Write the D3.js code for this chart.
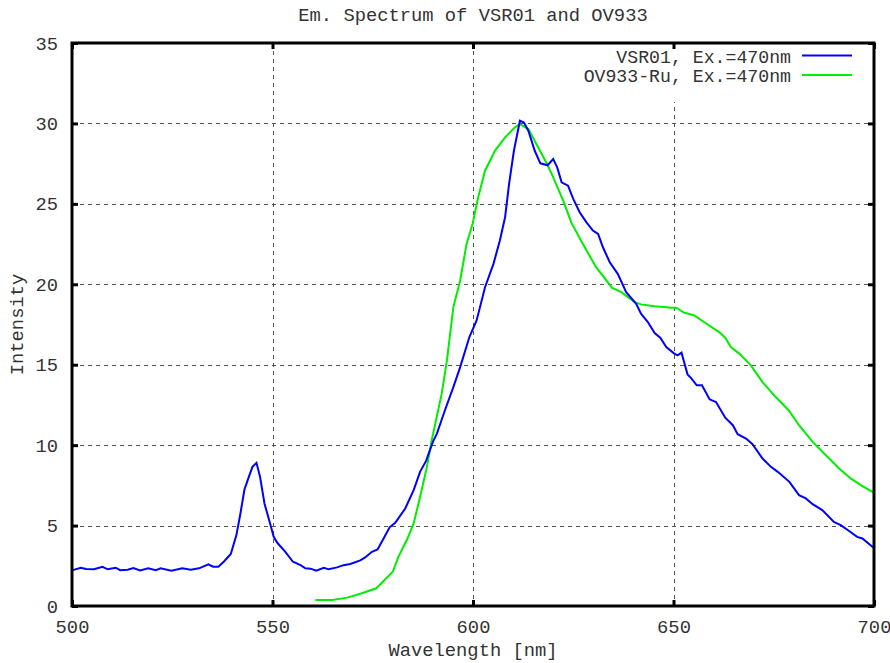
<!DOCTYPE html>
<html><head><meta charset="utf-8">
<script src="https://cdn.jsdelivr.net/npm/d3@7"></script>
<style>body{margin:0;background:#fff}svg text{font-family:"Liberation Mono","Courier New",monospace}</style>
</head><body><svg id="c" width="890" height="663"></svg>
<script>
const title = "Em. Spectrum of VSR01 and OV933";
const xLabel = "Wavelength [nm]";
const yLabel = "Intensity";
const xTicks = [500, 550, 600, 650, 700];
const yTicks = [0, 5, 10, 15, 20, 25, 30, 35];
const seriesNames = ["VSR01, Ex.=470nm", "OV933-Ru, Ex.=470nm"];
const seriesColors = ["#0000ff", "#00ee00"];

const vsrX = [500,500.2,502.2,503.5,505.5,507.6,508.9,510.9,512,513.9,515.3,517,519,520.9,522.1,524.8,527.5,529.6,531.7,534,535.2,536.5,537.9,539.6,541,542,543,544.1,545,546,546.9,548,549.5,550.3,551.2,553.2,555.1,557,558.2,559.5,560.9,562.8,564,566.1,567.7,569.4,571.9,573.1,574.8,576.2,577.7,579.2,580.6,583.1,585.2,586.8,588.3,590,591,593,595.1,596.8,599.1,600.9,603,605.1,606.7,608,609,610.2,611.7,612.7,613.8,615.4,616.8,618.6,620,621,622.1,623.7,625,626.6,628.3,629.9,631.2,632.4,634.1,636.1,638.2,640.7,641.9,643.6,645.3,646.7,648.2,650.2,651,652,653.5,654.4,655.8,657.1,659,660.6,662.9,664.8,666,668.1,669.7,672.2,674.3,676,678.9,681.3,683,684.7,687.1,690,691.7,693.8,695.8,697.1,699.6,700];
const vsrY = [2.22,2.23,2.38,2.30,2.28,2.44,2.28,2.38,2.23,2.26,2.36,2.21,2.34,2.23,2.34,2.19,2.34,2.26,2.34,2.59,2.44,2.44,2.77,3.23,4.41,5.75,7.24,8.03,8.65,8.9,8.03,6.37,5.03,4.30,3.93,3.37,2.75,2.54,2.34,2.32,2.19,2.38,2.28,2.40,2.54,2.61,2.84,3.02,3.37,3.52,4.20,4.89,5.17,6.06,7.20,8.34,9.02,10.2,10.72,12.17,13.61,14.85,16.72,17.75,19.82,21.27,22.72,24.17,26.24,28.3,30.17,30.06,29.55,28.3,27.52,27.4,27.79,27.27,26.34,26.13,25.31,24.48,23.85,23.34,23.13,22.3,21.37,20.65,19.51,18.79,18.17,17.65,16.97,16.68,16.1,15.69,15.58,15.75,14.4,14.17,13.72,13.72,12.85,12.68,11.71,11.24,10.68,10.41,10.06,9.17,8.65,8.34,7.72,6.89,6.69,6.33,5.96,5.23,5.03,4.66,4.30,4.20,3.68,3.62];

const ovX = [560.7,564.9,568.6,572.3,575.9,580,581.4,583.5,585.2,586.8,588.5,589.7,592.2,593.5,595.1,596.8,598.4,599.9,601.3,603,605.5,608,610.4,611.7,613.8,615.8,618.7,620,622.5,624.5,627.4,630.7,634.7,637,640.3,641.9,645.3,649.6,650.7,652.5,655.2,658.9,661.4,662.9,664.3,666.4,669.3,672.2,675.5,678.7,681.3,684.7,688,691.3,694.2,696.7,699.6,700];
const ovY = [0.37,0.37,0.52,0.79,1.10,2.13,3.06,4.10,5.13,6.78,8.65,10.3,13.2,15.27,18.58,20.24,22.51,23.76,25.41,27.06,28.31,29.13,29.75,29.96,29.65,28.72,27.37,26.65,25.2,23.85,22.51,21.06,19.78,19.51,18.89,18.75,18.64,18.54,18.54,18.25,18.06,17.44,17.03,16.68,16.1,15.69,14.96,13.92,12.99,12.17,11.24,10.2,9.37,8.55,7.93,7.51,7.10,7.05];

const FS = 18.8;
const svg = d3.select("#c");
const L = 72, R = 874, T = 43, B = 606;
const x = d3.scaleLinear().domain([500, 700]).range([L, R]);
const y = d3.scaleLinear().domain([0, 35]).range([B, T]);

// grid
const grid = svg.append("g").attr("stroke", "#555").attr("stroke-width", 1).attr("stroke-dasharray", "4,4");
xTicks.slice(1, -1).forEach(v => grid.append("line").attr("x1", Math.round(x(v)) + 0.5).attr("x2", Math.round(x(v)) + 0.5).attr("y1", T).attr("y2", B));
yTicks.slice(1, -1).forEach(v => grid.append("line").attr("y1", Math.round(y(v)) + 0.5).attr("y2", Math.round(y(v)) + 0.5).attr("x1", L).attr("x2", R));

// legend background
svg.append("rect").attr("x", 566).attr("y", T + 1).attr("width", R - 567).attr("height", 58).attr("fill", "#fff");

// lines
const line = d3.line().x(d => x(d[0])).y(d => y(d[1]));
svg.append("path").datum(ovX.map((v, i) => [v, ovY[i]])).attr("d", line)
  .attr("fill", "none").attr("stroke", seriesColors[1]).attr("stroke-width", 2);
svg.append("path").datum(vsrX.map((v, i) => [v, vsrY[i]])).attr("d", line)
  .attr("fill", "none").attr("stroke", seriesColors[0]).attr("stroke-width", 2);

// axes (ticks inward)
const ax = svg.append("g");
const xb = d3.axisBottom(x).tickValues(xTicks).tickSize(-6).tickPadding(14).tickFormat(d3.format("d"));
const xt = d3.axisTop(x).tickValues(xTicks).tickSize(-6).tickFormat("");
const yl = d3.axisLeft(y).tickValues(yTicks).tickSize(-6).tickPadding(14).tickFormat(d3.format("d"));
const yr = d3.axisRight(y).tickValues(yTicks).tickSize(-6).tickFormat("");
[[xb, `translate(0,${B})`], [xt, `translate(0,${T})`], [yl, `translate(${L},0)`], [yr, `translate(${R},0)`]].forEach(([a, t]) => {
  const g = ax.append("g").attr("transform", t).call(a);
  g.select(".domain").remove();
  g.selectAll(".tick line").attr("stroke", "#000").attr("stroke-width", 3);
  g.selectAll(".tick text").attr("font-size", FS).attr("fill", "#333").attr("font-family", "Liberation Mono");
});

// frame
svg.append("rect").attr("x", L).attr("y", T).attr("width", R - L).attr("height", B - T)
  .attr("fill", "none").attr("stroke", "#000").attr("stroke-width", 3);

// legend
seriesNames.forEach((n, i) => {
  const yy = 56.5 + i * 19.5;
  svg.append("text").attr("x", 791).attr("y", yy).attr("dy", "0.35em").attr("text-anchor", "end")
    .attr("font-size", 18.2).attr("fill", "#333").text(n);
  svg.append("line").attr("x1", 802).attr("x2", 852).attr("y1", yy - 1).attr("y2", yy - 1)
    .attr("stroke", seriesColors[i]).attr("stroke-width", 2);
});

// titles
svg.append("text").attr("x", (L + R) / 2).attr("y", 21).attr("text-anchor", "middle").attr("font-size", FS).attr("fill", "#333").text(title);
svg.append("text").attr("x", (L + R) / 2).attr("y", 656).attr("text-anchor", "middle").attr("font-size", FS).attr("fill", "#333").text(xLabel);
svg.append("text").attr("transform", `translate(23,${(T + B) / 2}) rotate(-90)`).attr("text-anchor", "middle").attr("font-size", FS).attr("fill", "#333").text(yLabel);
</script></body></html>
